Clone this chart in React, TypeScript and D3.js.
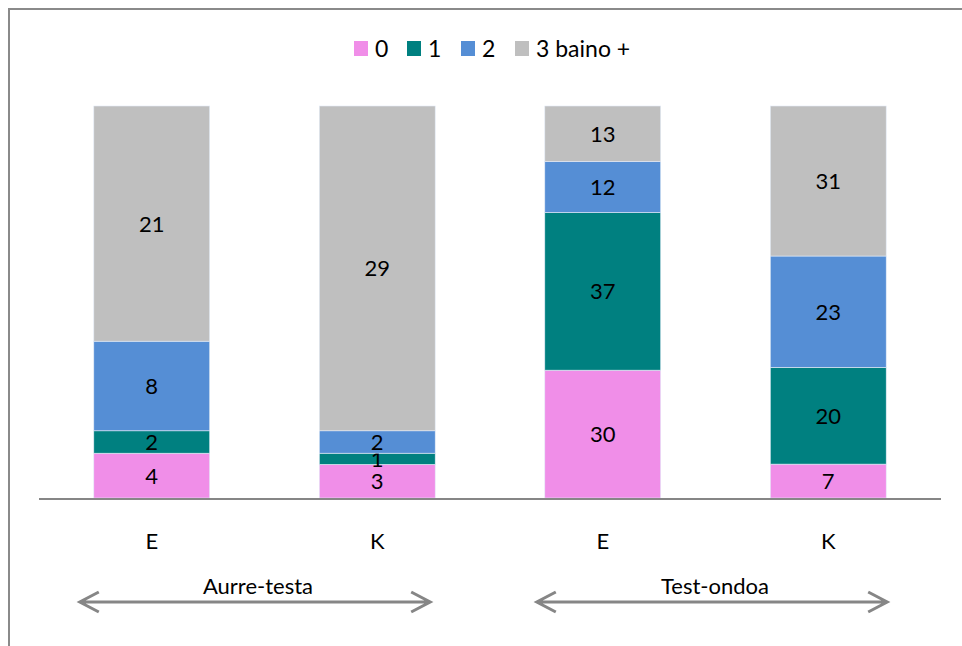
import React from "react";
import * as d3 from "d3";

// Categories along the x axis (two groups of two)
const categories = ["E-a", "K-a", "E-b", "K-b"];
const categoryLabels = ["E", "K", "E", "K"];
const groups = [
  { name: "Aurre-testa", members: ["E-a", "K-a"] },
  { name: "Test-ondoa", members: ["E-b", "K-b"] },
];

// Series (stack order bottom to top)
const seriesNames = ["0", "1", "2", "3 baino +"];
const seriesColors = ["#F08EE8", "#008080", "#558ED5", "#BFBFBF"];
const values0 = [4, 3, 30, 7];
const values1 = [2, 1, 37, 20];
const values2 = [8, 2, 12, 23];
const values3 = [21, 29, 13, 31];

const W = 962;
const H = 646;
const FONT = "Lato, 'Noto Sans', sans-serif";

export default function App() {
  const table = categories.map((c, i) => ({
    cat: c,
    "0": values0[i],
    "1": values1[i],
    "2": values2[i],
    "3 baino +": values3[i],
  }));

  const stack = d3
    .stack<any>()
    .keys(seriesNames)
    .offset(d3.stackOffsetExpand);
  const layers = stack(table);

  const x = d3
    .scaleBand<string>()
    .domain(categories)
    .range([39, 941])
    .paddingInner(0.486)
    .paddingOuter(0.243);
  const y = d3.scaleLinear().domain([0, 1]).range([498, 106]);
  const bw = x.bandwidth();

  // Legend layout
  const legendItems = [
    { x: 354, textX: 375 },
    { x: 407, textX: 428 },
    { x: 461, textX: 482 },
    { x: 515, textX: 536 },
  ];

  return (
    <svg
      width={W}
      height={H}
      style={{ position: "absolute", left: 0, top: 0, background: "#fff" }}
      fontFamily={FONT}
    >
      <rect x={0} y={0} width={W} height={H} fill="#fff" />
      {/* chart area frame */}
      <rect
        x={9}
        y={9}
        width={W + 20}
        height={H + 20}
        fill="none"
        stroke="#8A8A8A"
        strokeWidth={2}
      />

      {/* legend */}
      {seriesNames.map((s, i) => (
        <g key={s}>
          <rect
            x={legendItems[i].x}
            y={41}
            width={14}
            height={15}
            fill={seriesColors[i]}
          />
          <text x={legendItems[i].textX} y={57} fontSize={23} fill="#000">
            {s}
          </text>
        </g>
      ))}

      {/* stacked bars */}
      {layers.map((layer, li) => (
        <g key={layer.key}>
          {layer.map((d, j) => {
            const cat = categories[j];
            const y0 = y(d[0]);
            const y1 = y(d[1]);
            const val = (d.data as any)[layer.key] as number;
            return (
              <g key={cat}>
                <rect
                  x={x(cat)}
                  y={y1}
                  width={bw}
                  height={y0 - y1}
                  fill={seriesColors[li]}
                  stroke="#E4ECF7"
                  strokeWidth={0.6}
                />
                <text
                  x={(x(cat) as number) + bw / 2}
                  y={(y0 + y1) / 2 + 8}
                  textAnchor="middle"
                  fontSize={22}
                  fill="#000"
                >
                  {val}
                </text>
              </g>
            );
          })}
        </g>
      ))}

      {/* category axis */}
      <line x1={39} x2={941} y1={499} y2={499} stroke="#868686" strokeWidth={2} />
      {categories.map((c, i) => (
        <text
          key={c}
          x={(x(c) as number) + bw / 2}
          y={549}
          textAnchor="middle"
          fontSize={22}
          fill="#000"
        >
          {categoryLabels[i]}
        </text>
      ))}

      {/* group arrows */}
      {groups.map((g, gi) => {
        const x1 = (x(g.members[0]) as number) - (gi === 0 ? 14 : 8);
        const x2 =
          (x(g.members[g.members.length - 1]) as number) + bw + (gi === 0 ? -5 : 1);
        const cy = 602;
        const ah = 19;
        const av = 10;
        return (
          <g key={g.name}>
            <path
              d={`M${x1},${cy}H${x2}M${x1 + ah},${cy - av}L${x1},${cy}L${x1 + ah},${cy + av}M${x2 - ah},${cy - av}L${x2},${cy}L${x2 - ah},${cy + av}`}
              fill="none"
              stroke="#868686"
              strokeWidth={3}
            />
            <text
              x={(x1 + x2) / 2 + 3}
              y={594}
              textAnchor="middle"
              fontSize={22}
              fill="#000"
            >
              {g.name}
            </text>
          </g>
        );
      })}
    </svg>
  );
}
